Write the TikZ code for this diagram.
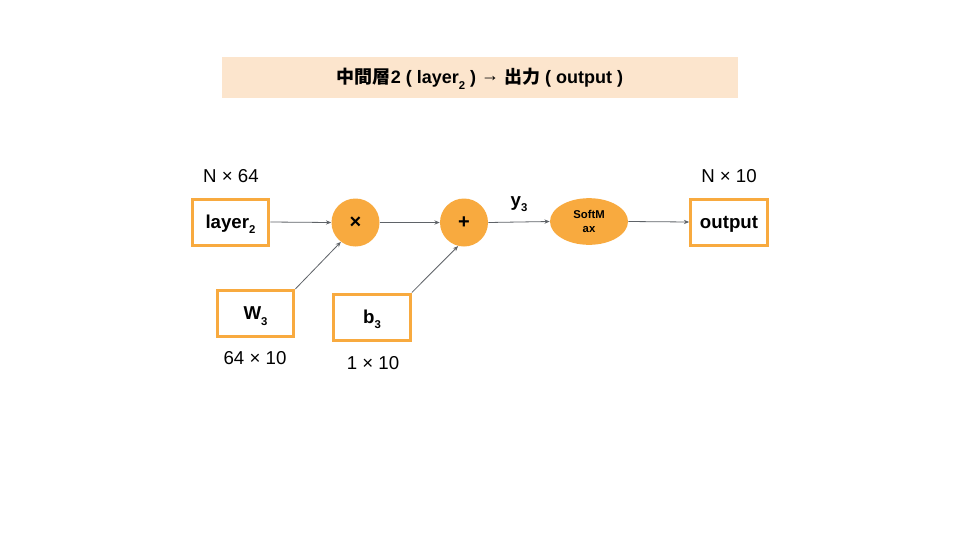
\documentclass[tikz,border=0pt]{standalone}
\usepackage{fontspec}
\setmainfont{Liberation Sans}
\newfontfamily\cjkfont{Noto Sans CJK JP}
\usetikzlibrary{shapes.geometric,arrows.meta}
\definecolor{orng}{HTML}{F8AA3F}
\definecolor{peach}{HTML}{FCE5CD}
\definecolor{conn}{HTML}{5F6368}
\tikzset{
  x=0.75pt, y=-0.75pt,
  box/.style={draw=orng, line width=2.25pt, fill=white, rectangle,
    minimum width=57.5pt, minimum height=34.5pt, inner sep=0pt,
    text height=9.6pt, text depth=0pt,
    font=\fontsize{14}{16}\selectfont\bfseries},
  op/.style={circle, fill=orng, minimum size=36pt, inner sep=0pt,
    font=\fontsize{15}{17}\selectfont\bfseries},
  sm/.style={ellipse, fill=orng, minimum width=58.5pt, minimum height=35pt, inner sep=0pt,
    align=center, font=\fontsize{8.5}{11}\selectfont\bfseries},
  dim/.style={font=\fontsize{14}{16}\selectfont, inner sep=0pt},
  arr/.style={draw=conn, line width=0.6pt, -{Stealth[length=4pt,width=3.2pt]}},
}
\newcommand{\sbs}[1]{\raisebox{-0.55ex}{\fontsize{8.5}{9}\selectfont #1}}
\begin{document}
\begin{tikzpicture}
\useasboundingbox[fill=white] (0,0) rectangle (960,540);
% title
\node[fill=peach, minimum width=387pt, minimum height=30.75pt, inner sep=0pt,
  text height=9.5pt, text depth=0pt,
  font=\fontsize{13.5}{15}\selectfont\bfseries] (title) at (480,77.5)
  {{\cjkfont 中間層}2 ( layer\sbs{2} ) \raisebox{0.2ex}{\mdseries →} {\cjkfont 出力} ( output )};
% nodes
\node[box] (layer) at (230.5,222) {layer\sbs{2}};
\node[op] (mul) at (355.5,222.5) {×};
\node[op] (plus) at (464,222.5) {+};
\node[sm] (soft) at (589,221.5) {SoftM\\ax};
\node[box] (out) at (729,222) {output};
\node[box] (w) at (255.5,313.5) {W\sbs{3}};
\node[box] (b) at (372,317) {b\sbs{3}};
% labels
\node[dim] (l1) at (231,176) {N × 64};
\node[dim] (l2) at (729,176) {N × 10};
\node[dim] (l3) at (255,358) {64 × 10};
\node[dim] (l4) at (373,363) {1 × 10};
\node[font=\fontsize{14}{16}\selectfont\bfseries, inner sep=0pt] (y) at (519,204) {y\sbs{3}};
% connectors
\draw[arr] (layer.east) -- (mul.west);
\draw[arr] (mul.east) -- (plus.west);
\draw[arr] (plus.east) -- (soft.west);
\draw[arr] (soft.east) -- (out.west);
\draw[arr] (w.north east) -- (mul.233);
\draw[arr] (b.north east) -- (plus.256);
\end{tikzpicture}
\end{document}
